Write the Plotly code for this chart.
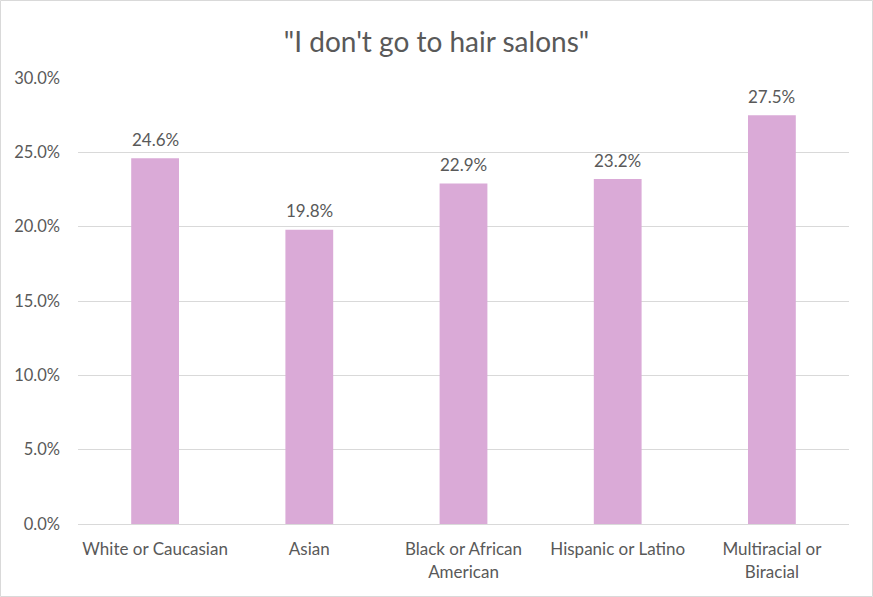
import plotly.graph_objects as go

categories = ["White or Caucasian", "Asian", "Black or African<br>American",
              "Hispanic or Latino", "Multiracial or<br>Biracial"]
values = [0.246, 0.198, 0.229, 0.232, 0.275]
y_ticks = [0, 0.05, 0.10, 0.15, 0.20, 0.25, 0.30]

W, H = 873, 597
L, R, T, B = 78, 24, 78, 73
pw, ph = W - L - R, H - T - B

font = "Lato, 'Open Sans', sans-serif"
txt = "#595959"

fig = go.Figure(go.Bar(
    x=categories, y=values,
    marker=dict(color="#DAAAD7", line=dict(width=0)),
    hoverinfo="skip",
))

annotations = [dict(x=c, y=v, xref="x", yref="y", text=f"{v*100:.1f}%",
                    showarrow=False, yanchor="middle", yshift=19,
                    font=dict(family=font, size=17, color=txt))
               for c, v in zip(categories, values)]

fig.update_layout(
    width=W, height=H,
    margin=dict(l=L, r=R, t=T, b=B),
    paper_bgcolor="white", plot_bgcolor="white",
    bargap=0.69,
    showlegend=False,
    annotations=annotations,
    title=dict(text="\"I don't go to hair salons\"", x=0.5, xanchor="center",
               y=1 - 42 / H, yanchor="middle",
               font=dict(family=font, size=28, color=txt)),
    xaxis=dict(showgrid=False, showline=True, linecolor="#d9d9d9", linewidth=1,
               ticks="", ticklabelstandoff=10,
               tickfont=dict(family=font, size=17, color=txt)),
    yaxis=dict(range=[0, 0.30], tickvals=y_ticks, tickformat=".1%",
               showgrid=True, gridcolor="#d9d9d9", gridwidth=1,
               zeroline=False, showline=False, ticks="",
               ticklabelstandoff=17,
               tickfont=dict(family=font, size=16.5, color=txt)),
    shapes=[dict(type="rect", xref="paper", yref="paper",
                 x0=-(L - 0.5) / pw, x1=1 + (R - 0.5) / pw,
                 y0=-(B - 0.5) / ph, y1=1 + (T - 0.5) / ph,
                 line=dict(color="#d9d9d9", width=1), layer="below")],
)

fig.write_html("out.html", config={"displayModeBar": False},
               post_script="document.body.style.margin='0';document.body.style.overflow='hidden';")
